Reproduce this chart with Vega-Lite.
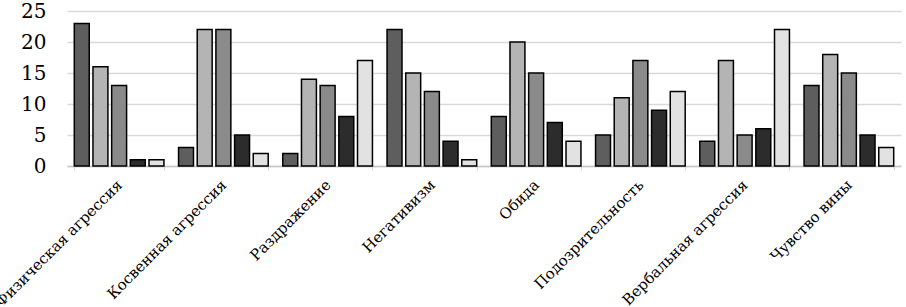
{
  "$schema": "https://vega.github.io/schema/vega-lite/v6.json",
  "autosize": "none",
  "padding": {"left": 67, "top": 11, "right": 5, "bottom": 142},
  "width": 834,
  "height": 155,
  "background": "white",
  "data": {"values": [
    {"cat": "Физическая агрессия", "s": "1", "v": 23},
    {"cat": "Физическая агрессия", "s": "2", "v": 16},
    {"cat": "Физическая агрессия", "s": "3", "v": 13},
    {"cat": "Физическая агрессия", "s": "4", "v": 1},
    {"cat": "Физическая агрессия", "s": "5", "v": 1},
    {"cat": "Косвенная агрессия", "s": "1", "v": 3},
    {"cat": "Косвенная агрессия", "s": "2", "v": 22},
    {"cat": "Косвенная агрессия", "s": "3", "v": 22},
    {"cat": "Косвенная агрессия", "s": "4", "v": 5},
    {"cat": "Косвенная агрессия", "s": "5", "v": 2},
    {"cat": "Раздражение", "s": "1", "v": 2},
    {"cat": "Раздражение", "s": "2", "v": 14},
    {"cat": "Раздражение", "s": "3", "v": 13},
    {"cat": "Раздражение", "s": "4", "v": 8},
    {"cat": "Раздражение", "s": "5", "v": 17},
    {"cat": "Негативизм", "s": "1", "v": 22},
    {"cat": "Негативизм", "s": "2", "v": 15},
    {"cat": "Негативизм", "s": "3", "v": 12},
    {"cat": "Негативизм", "s": "4", "v": 4},
    {"cat": "Негативизм", "s": "5", "v": 1},
    {"cat": "Обида", "s": "1", "v": 8},
    {"cat": "Обида", "s": "2", "v": 20},
    {"cat": "Обида", "s": "3", "v": 15},
    {"cat": "Обида", "s": "4", "v": 7},
    {"cat": "Обида", "s": "5", "v": 4},
    {"cat": "Подозрительность", "s": "1", "v": 5},
    {"cat": "Подозрительность", "s": "2", "v": 11},
    {"cat": "Подозрительность", "s": "3", "v": 17},
    {"cat": "Подозрительность", "s": "4", "v": 9},
    {"cat": "Подозрительность", "s": "5", "v": 12},
    {"cat": "Вербальная агрессия", "s": "1", "v": 4},
    {"cat": "Вербальная агрессия", "s": "2", "v": 17},
    {"cat": "Вербальная агрессия", "s": "3", "v": 5},
    {"cat": "Вербальная агрессия", "s": "4", "v": 6},
    {"cat": "Вербальная агрессия", "s": "5", "v": 22},
    {"cat": "Чувство вины", "s": "1", "v": 13},
    {"cat": "Чувство вины", "s": "2", "v": 18},
    {"cat": "Чувство вины", "s": "3", "v": 15},
    {"cat": "Чувство вины", "s": "4", "v": 5},
    {"cat": "Чувство вины", "s": "5", "v": 3}
  ]},
  "mark": {"type": "bar", "stroke": "black", "strokeWidth": 1.5},
  "encoding": {
    "x": {
      "field": "cat", "type": "nominal", "sort": null,
      "scale": {"paddingInner": 0.14, "paddingOuter": 0.07},
      "axis": {
        "title": null, "labelAngle": -45, "labelAlign": "right", "labelBaseline": "middle",
        "labelFont": "DejaVu Serif", "labelFontSize": 15, "labelColor": "black",
        "labelPadding": 12, "domainColor": "#c8c8c8", "domainWidth": 1.5,
        "ticks": true, "tickBand": "extent", "tickColor": "#d8d8d8", "tickSize": 4, "labelLimit": 400
      }
    },
    "xOffset": {"field": "s", "type": "nominal", "scale": {"paddingInner": 0.2, "paddingOuter": 0}},
    "y": {
      "field": "v", "type": "quantitative",
      "scale": {"domain": [0, 25], "nice": false},
      "axis": {
        "title": null, "values": [0, 5, 10, 15, 20, 25], "domain": false, "ticks": false,
        "labelFont": "DejaVu Serif", "labelFontSize": 20, "labelColor": "black", "labelPadding": 21,
        "gridColor": "#d9d9d9", "gridWidth": 1.5
      }
    },
    "color": {
      "field": "s", "type": "nominal", "legend": null,
      "scale": {"domain": ["1", "2", "3", "4", "5"], "range": ["#5e5e5e", "#b4b4b4", "#8a8a8a", "#2c2c2c", "#e2e2e2"]}
    }
  },
  "config": {"view": {"stroke": null}}
}
